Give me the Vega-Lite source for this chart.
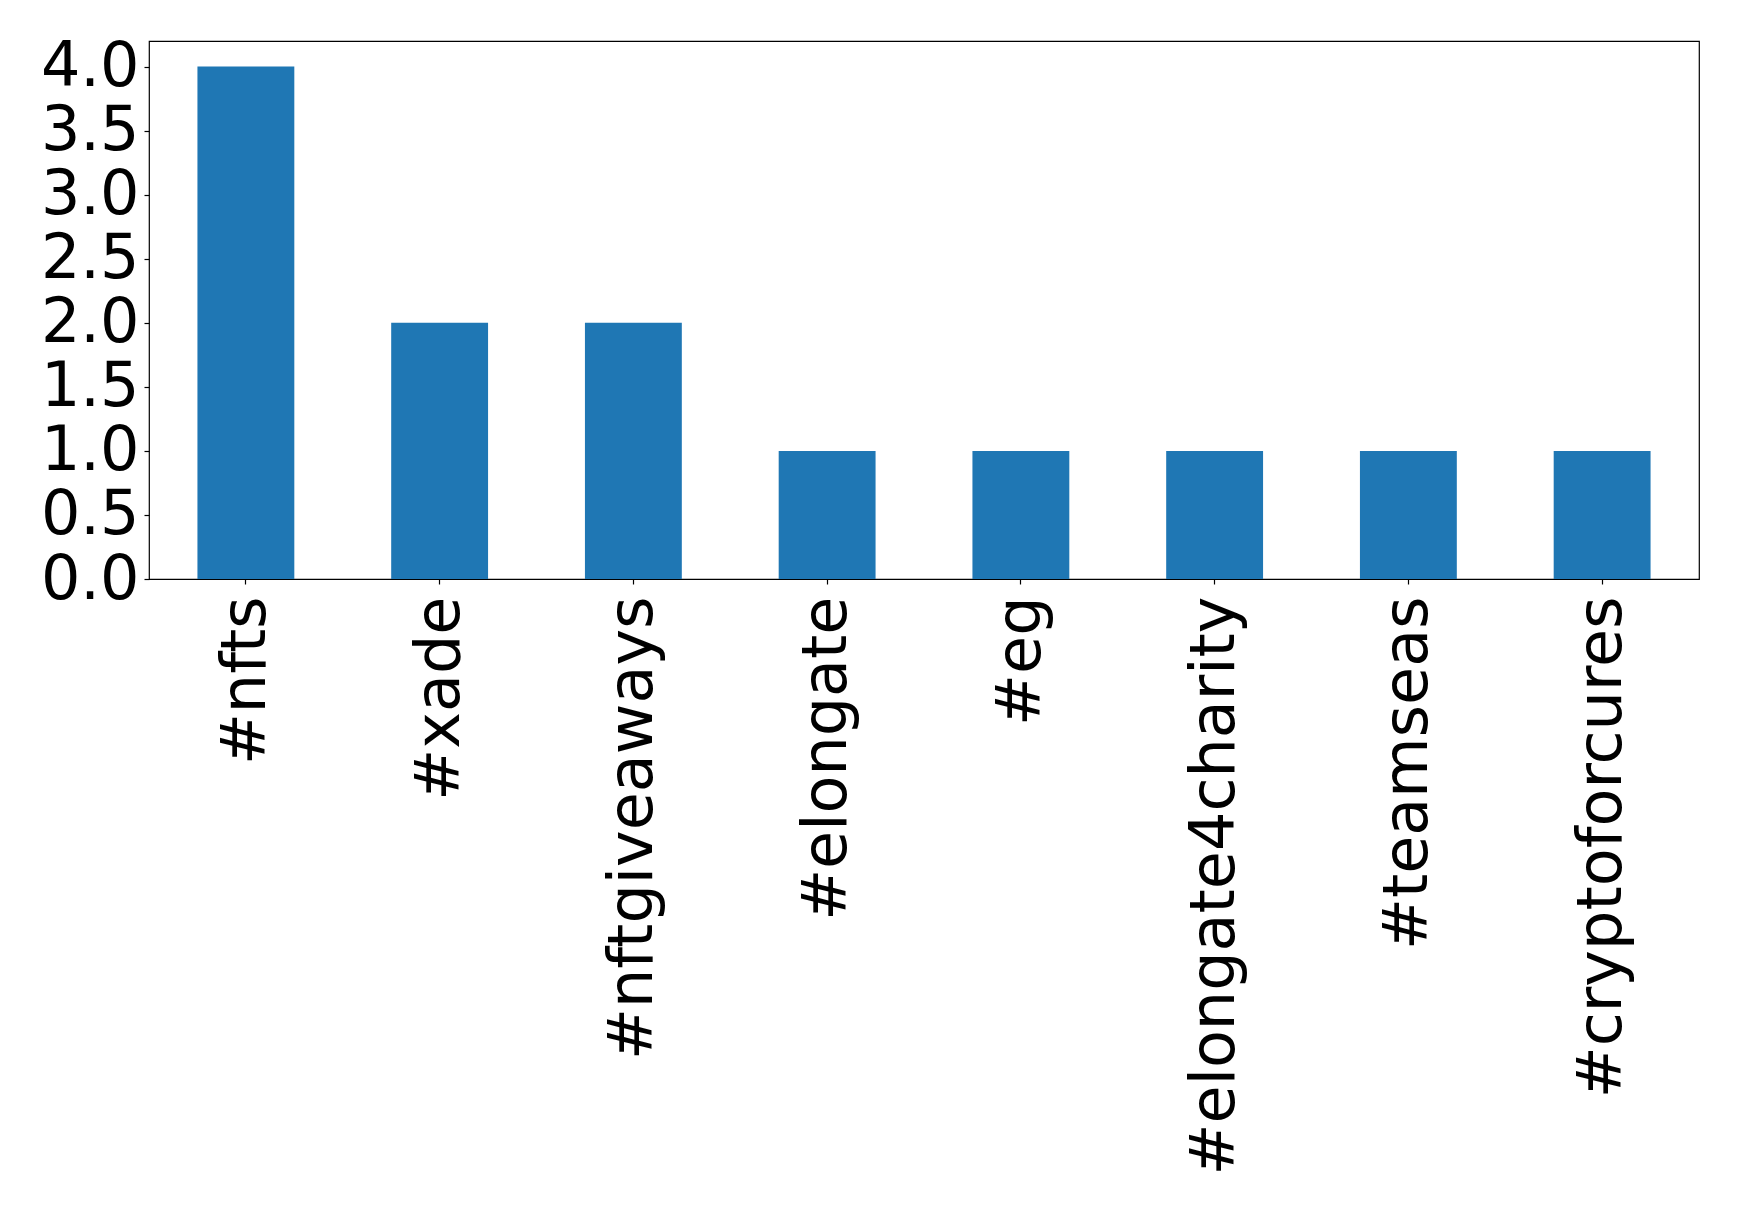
{
  "$schema": "https://vega.github.io/schema/vega-lite/v6.json",
  "autosize": {"type": "none"},
  "padding": {"left": 149, "top": 41, "right": 40, "bottom": 633},
  "width": 1550,
  "height": 538,
  "background": "white",
  "config": {
    "font": "DejaVu Sans",
    "view": {"stroke": "black", "strokeWidth": 1.2},
    "axis": {"grid": false, "domain": false, "tickColor": "black", "tickSize": 5, "tickWidth": 1.2, "labelColor": "black", "labelFont": "DejaVu Sans", "labelFontSize": 62, "title": null}
  },
  "data": {
    "values": [
      {"tag": "#nfts", "count": 4},
      {"tag": "#xade", "count": 2},
      {"tag": "#nftgiveaways", "count": 2},
      {"tag": "#elongate", "count": 1},
      {"tag": "#eg", "count": 1},
      {"tag": "#elongate4charity", "count": 1},
      {"tag": "#teamseas", "count": 1},
      {"tag": "#cryptoforcures", "count": 1}
    ]
  },
  "mark": {"type": "bar", "color": "#1f77b4"},
  "encoding": {
    "x": {
      "field": "tag", "type": "nominal", "sort": null,
      "scale": {"paddingInner": 0.5, "paddingOuter": 0.25},
      "axis": {"labelAngle": -90, "labelAlign": "right", "labelBaseline": "middle", "labelPadding": 12, "labelLimit": 0}
    },
    "y": {
      "field": "count", "type": "quantitative",
      "scale": {"domain": [0, 4.2], "nice": false},
      "axis": {"values": [0, 0.5, 1, 1.5, 2, 2.5, 3, 3.5, 4], "format": ".1f", "labelPadding": 5}
    }
  }
}
